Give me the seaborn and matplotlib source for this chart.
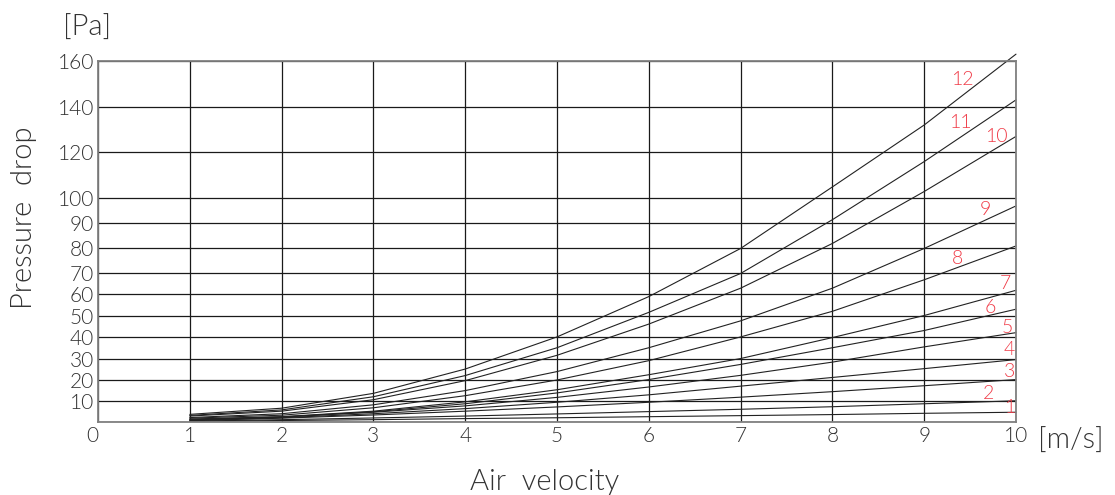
import numpy as np
import pandas as pd
import matplotlib
matplotlib.use('Agg')
import matplotlib.pyplot as plt
import seaborn as sns

# air velocity [m/s]
velocity = [1, 2, 3, 4, 5, 6, 7, 8, 9, 10]

# pressure drop [Pa] per curve
curve_1 = [0.3, 0.7, 1.1, 1.6, 2.0, 2.5, 3.0, 3.5, 4.1, 4.6]
curve_2 = [0.4, 1.1, 1.9, 2.8, 3.8, 4.9, 6.0, 7.2, 8.6, 10.0]
curve_3 = [0.6, 1.8, 3.3, 5.1, 7.1, 9.3, 11.7, 14.3, 17.1, 20.0]
curve_4 = [0.8, 2.0, 3.9, 6.3, 9.3, 12.8, 16.9, 21.0, 25.2, 29.5]
curve_5 = [1.0, 2.3, 4.6, 7.6, 11.6, 16.5, 22.0, 28.3, 35.4, 42.0]
curve_6 = [1.2, 2.4, 4.8, 8.6, 13.7, 20.0, 27.2, 35.0, 43.0, 53.0]
curve_7 = [1.4, 2.5, 5.1, 9.5, 15.2, 22.3, 30.0, 39.7, 50.0, 62.0]
curve_8 = [1.8, 3.2, 6.7, 12.4, 19.8, 29.0, 40.0, 52.0, 67.0, 81.0]
curve_9 = [2.1, 3.9, 8.1, 14.8, 23.8, 35.0, 47.5, 63.0, 80.0, 97.0]
curve_10 = [2.8, 5.1, 10.5, 19.5, 31.5, 46.0, 63.0, 82.0, 103.0, 127.0]
curve_11 = [3.1, 5.7, 11.9, 21.9, 35.0, 51.5, 70.0, 91.5, 116.0, 143.0]
curve_12 = [3.6, 6.5, 13.5, 25.0, 40.0, 59.0, 80.0, 105.0, 132.0, 163.0]
curves = [curve_1, curve_2, curve_3, curve_4, curve_5, curve_6,
          curve_7, curve_8, curve_9, curve_10, curve_11, curve_12]

curve_names = ['1', '2', '3', '4', '5', '6', '7', '8', '9', '10', '11', '12']
lab_x = [9.93, 9.70, 9.93, 9.93, 9.90, 9.72, 9.89, 9.36, 9.67, 9.79, 9.39, 9.42]
lab_y = [7, 13.5, 24, 34, 44.6, 53.7, 65, 76, 95.5, 127, 133, 152]

x_ticks = [0, 1, 2, 3, 4, 5, 6, 7, 8, 9, 10]
y_ticks = [0, 10, 20, 30, 40, 50, 60, 70, 80, 90, 100, 120, 140, 160]

# the drawing's pressure axis is not evenly spaced: relative heights of its grid lines
y_grid_height = [0, 21.2, 42.4, 63.4, 85.0, 106.4, 127.4, 148.4, 173.4,
                 198.4, 223.4, 269.4, 315.0, 360.7]

rows = []
for name, vals in zip(curve_names, curves):
    for v, p in zip(velocity, vals):
        rows.append({'curve': name, 'velocity': v, 'dp': p})
df = pd.DataFrame(rows)

sv = np.array([-20.0] + y_ticks + [200.0])
sh = np.array([-42.4] + y_grid_height + [360.7 + 40 * 2.28])


def fwd(v):
    return np.interp(v, sv, sh)


def inv(h):
    return np.interp(h, sh, sv)


sns.set_theme(style='white')
plt.rcParams['font.family'] = ['Lato', 'DejaVu Sans']
plt.rcParams['font.weight'] = 300

W, H = 1115, 495
fig = plt.figure(figsize=(W / 100, H / 100), dpi=100)
ax = fig.add_axes([98 / W, 1 - 422 / H, (1016 - 98) / W, (422 - 61) / H])
ax.set_yscale('function', functions=(fwd, inv))

sns.lineplot(data=df, x='velocity', y='dp', hue='curve', palette=['#222222'] * 12,
             legend=False, linewidth=0.8, ax=ax)
for line in ax.lines:
    line.set_clip_on(False)

ax.set_xlim(0, 10)
ax.set_ylim(0, 160)
ax.set_xticks(x_ticks)
ax.set_yticks(y_ticks)
ax.set_yticklabels(['' if t == 0 else str(t) for t in y_ticks])
ax.set_xticklabels([str(t) for t in x_ticks])
ax.get_xticklabels()[0].set_ha('right')
ax.grid(True, color='#1a1a1a', linewidth=0.9)
ax.tick_params(length=0, pad=3, labelsize=15, colors='#333333')
for s in ax.spines.values():
    s.set_color('#808080')
    s.set_linewidth(1.3)
ax.set_xlabel('')
ax.set_ylabel('')

for name, tx, ty in zip(curve_names, lab_x, lab_y):
    ax.text(tx, ty, name, color='#f03c48', fontsize=14, ha='center', va='center')

txt = dict(color='#333333', fontsize=21)
fig.text(87 / W, 1 - 28 / H, '[Pa]', ha='center', va='center', **txt)
fig.text(24 / W, 1 - 218 / H, 'Pressure  drop', rotation=90, ha='center', va='center', **txt)
fig.text(545 / W, 1 - 490 / H, 'Air  velocity', ha='center', va='baseline', **txt)
fig.text(1038 / W, 1 - 441 / H, '[m/s]', ha='left', va='center', **txt)

fig.savefig('out.png', dpi=100)
